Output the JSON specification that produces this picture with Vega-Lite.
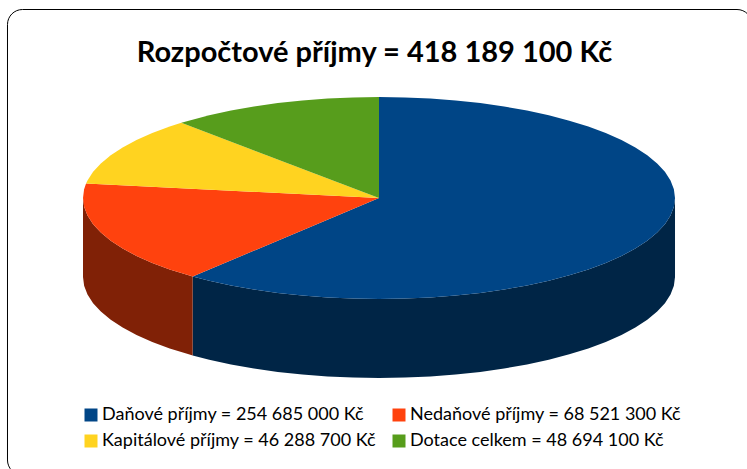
{"$schema":"https://vega.github.io/schema/vega-lite/v6.json","width":747,"height":469,"padding":0,"autosize":{"type":"none"},"background":"white","config":{"view":{"stroke":null}},
"title":{"text":"Rozpočtové příjmy = 418 189 100 Kč","font":"Lato","fontSize":29,"fontWeight":"bold","color":"#000000","anchor":"middle","offset":-68,"dx":1},
"datasets":{
"card":[{"x":-1.2551,"x2":1.2601,"y":1.8663,"y2":-2.7426}],
"sideBlue":[{"x":1,"y":0,"y2":-0.7822},{"x":0.9962,"y":-0.0872,"y2":-0.8694},{"x":0.9848,"y":-0.1736,"y2":-0.9558},{"x":0.9659,"y":-0.2588,"y2":-1.041},{"x":0.9397,"y":-0.342,"y2":-1.1242},{"x":0.9063,"y":-0.4226,"y2":-1.2048},{"x":0.866,"y":-0.5,"y2":-1.2822},{"x":0.8192,"y":-0.5736,"y2":-1.3558},{"x":0.766,"y":-0.6428,"y2":-1.425},{"x":0.7071,"y":-0.7071,"y2":-1.4893},{"x":0.6428,"y":-0.766,"y2":-1.5482},{"x":0.5736,"y":-0.8192,"y2":-1.6014},{"x":0.5,"y":-0.866,"y2":-1.6482},{"x":0.4226,"y":-0.9063,"y2":-1.6885},{"x":0.342,"y":-0.9397,"y2":-1.7219},{"x":0.2588,"y":-0.9659,"y2":-1.7481},{"x":0.1736,"y":-0.9848,"y2":-1.767},{"x":0.0872,"y":-0.9962,"y2":-1.7784},{"x":0,"y":-1,"y2":-1.7822},{"x":-0.0872,"y":-0.9962,"y2":-1.7784},{"x":-0.1736,"y":-0.9848,"y2":-1.767},{"x":-0.2588,"y":-0.9659,"y2":-1.7481},{"x":-0.342,"y":-0.9397,"y2":-1.7219},{"x":-0.4226,"y":-0.9063,"y2":-1.6885},{"x":-0.5,"y":-0.866,"y2":-1.6482},{"x":-0.5736,"y":-0.8192,"y2":-1.6014},{"x":-0.6295,"y":-0.777,"y2":-1.5592}],
"sideRed":[{"x":-0.6295,"y":-0.777,"y2":-1.5592},{"x":-0.6428,"y":-0.766,"y2":-1.5482},{"x":-0.7071,"y":-0.7071,"y2":-1.4893},{"x":-0.766,"y":-0.6428,"y2":-1.425},{"x":-0.8192,"y":-0.5736,"y2":-1.3558},{"x":-0.866,"y":-0.5,"y2":-1.2822},{"x":-0.9063,"y":-0.4226,"y2":-1.2048},{"x":-0.9397,"y":-0.342,"y2":-1.1242},{"x":-0.9659,"y":-0.2588,"y2":-1.041},{"x":-0.9848,"y":-0.1736,"y2":-0.9558},{"x":-0.9962,"y":-0.0872,"y2":-0.8694},{"x":-1,"y":0,"y2":-0.7822}],
"faces":[
{"s":"D","i":0,"x":0,"y":0},{"s":"D","i":1,"x":0,"y":1},{"s":"D","i":2,"x":0.0872,"y":0.9962},{"s":"D","i":3,"x":0.1736,"y":0.9848},{"s":"D","i":4,"x":0.2588,"y":0.9659},{"s":"D","i":5,"x":0.342,"y":0.9397},{"s":"D","i":6,"x":0.4226,"y":0.9063},{"s":"D","i":7,"x":0.5,"y":0.866},{"s":"D","i":8,"x":0.5736,"y":0.8192},{"s":"D","i":9,"x":0.6428,"y":0.766},{"s":"D","i":10,"x":0.7071,"y":0.7071},{"s":"D","i":11,"x":0.766,"y":0.6428},{"s":"D","i":12,"x":0.8192,"y":0.5736},{"s":"D","i":13,"x":0.866,"y":0.5},{"s":"D","i":14,"x":0.9063,"y":0.4226},{"s":"D","i":15,"x":0.9397,"y":0.342},{"s":"D","i":16,"x":0.9659,"y":0.2588},{"s":"D","i":17,"x":0.9848,"y":0.1736},{"s":"D","i":18,"x":0.9962,"y":0.0872},{"s":"D","i":19,"x":1,"y":0},{"s":"D","i":20,"x":0.9962,"y":-0.0872},{"s":"D","i":21,"x":0.9848,"y":-0.1736},{"s":"D","i":22,"x":0.9659,"y":-0.2588},{"s":"D","i":23,"x":0.9397,"y":-0.342},{"s":"D","i":24,"x":0.9063,"y":-0.4226},{"s":"D","i":25,"x":0.866,"y":-0.5},{"s":"D","i":26,"x":0.8192,"y":-0.5736},{"s":"D","i":27,"x":0.766,"y":-0.6428},{"s":"D","i":28,"x":0.7071,"y":-0.7071},{"s":"D","i":29,"x":0.6428,"y":-0.766},{"s":"D","i":30,"x":0.5736,"y":-0.8192},{"s":"D","i":31,"x":0.5,"y":-0.866},{"s":"D","i":32,"x":0.4226,"y":-0.9063},{"s":"D","i":33,"x":0.342,"y":-0.9397},{"s":"D","i":34,"x":0.2588,"y":-0.9659},{"s":"D","i":35,"x":0.1736,"y":-0.9848},{"s":"D","i":36,"x":0.0872,"y":-0.9962},{"s":"D","i":37,"x":0,"y":-1},{"s":"D","i":38,"x":-0.0872,"y":-0.9962},{"s":"D","i":39,"x":-0.1736,"y":-0.9848},{"s":"D","i":40,"x":-0.2588,"y":-0.9659},{"s":"D","i":41,"x":-0.342,"y":-0.9397},{"s":"D","i":42,"x":-0.4226,"y":-0.9063},{"s":"D","i":43,"x":-0.5,"y":-0.866},{"s":"D","i":44,"x":-0.5736,"y":-0.8192},{"s":"D","i":45,"x":-0.6295,"y":-0.777},
{"s":"N","i":0,"x":0,"y":0},{"s":"N","i":1,"x":-0.6295,"y":-0.777},{"s":"N","i":2,"x":-0.6428,"y":-0.766},{"s":"N","i":3,"x":-0.7071,"y":-0.7071},{"s":"N","i":4,"x":-0.766,"y":-0.6428},{"s":"N","i":5,"x":-0.8192,"y":-0.5736},{"s":"N","i":6,"x":-0.866,"y":-0.5},{"s":"N","i":7,"x":-0.9063,"y":-0.4226},{"s":"N","i":8,"x":-0.9397,"y":-0.342},{"s":"N","i":9,"x":-0.9659,"y":-0.2588},{"s":"N","i":10,"x":-0.9848,"y":-0.1736},{"s":"N","i":11,"x":-0.9962,"y":-0.0872},{"s":"N","i":12,"x":-1,"y":0},{"s":"N","i":13,"x":-0.9962,"y":0.0872},{"s":"N","i":14,"x":-0.9897,"y":0.1433},
{"s":"K","i":0,"x":0,"y":0},{"s":"K","i":1,"x":-0.9897,"y":0.1433},{"s":"K","i":2,"x":-0.9848,"y":0.1736},{"s":"K","i":3,"x":-0.9659,"y":0.2588},{"s":"K","i":4,"x":-0.9397,"y":0.342},{"s":"K","i":5,"x":-0.9063,"y":0.4226},{"s":"K","i":6,"x":-0.866,"y":0.5},{"s":"K","i":7,"x":-0.8192,"y":0.5736},{"s":"K","i":8,"x":-0.766,"y":0.6428},{"s":"K","i":9,"x":-0.7071,"y":0.7071},{"s":"K","i":10,"x":-0.6678,"y":0.7443},
{"s":"C","i":0,"x":0,"y":0},{"s":"C","i":1,"x":-0.6678,"y":0.7443},{"s":"C","i":2,"x":-0.6428,"y":0.766},{"s":"C","i":3,"x":-0.5736,"y":0.8192},{"s":"C","i":4,"x":-0.5,"y":0.866},{"s":"C","i":5,"x":-0.4226,"y":0.9063},{"s":"C","i":6,"x":-0.342,"y":0.9397},{"s":"C","i":7,"x":-0.2588,"y":0.9659},{"s":"C","i":8,"x":-0.1736,"y":0.9848},{"s":"C","i":9,"x":-0.0872,"y":0.9962},{"s":"C","i":10,"x":0,"y":1}
]},
"resolve":{"scale":{"x":"shared","y":"shared"}},
"layer":[
{"data":{"name":"card"},"mark":{"type":"rect","fill":"white","stroke":"#000000","strokeWidth":1,"cornerRadius":15},
"encoding":{"x":{"field":"x","type":"quantitative","scale":{"domain":[-1.2804,1.2432],"nice":false,"zero":false},"axis":null},"x2":{"field":"x2"},"y":{"field":"y","type":"quantitative","scale":{"domain":[-2.6832,1.9604],"nice":false,"zero":false},"axis":null},"y2":{"field":"y2"}}},
{"data":{"name":"sideBlue"},"mark":{"type":"area","color":"#002546"},"encoding":{"x":{"field":"x","type":"quantitative"},"y":{"field":"y","type":"quantitative"},"y2":{"field":"y2"}}},
{"data":{"name":"sideRed"},"mark":{"type":"area","color":"#802106"},"encoding":{"x":{"field":"x","type":"quantitative"},"y":{"field":"y","type":"quantitative"},"y2":{"field":"y2"}}},
{"data":{"name":"faces"},
"transform":[{"lookup":"s","from":{"data":{"values":[{"s":"D","label":"Daňové příjmy = 254 685 000 Kč"},{"s":"N","label":"Nedaňové příjmy = 68 521 300 Kč"},{"s":"K","label":"Kapitálové příjmy = 46 288 700 Kč"},{"s":"C","label":"Dotace celkem = 48 694 100 Kč"}]},"key":"s","fields":["label"]}}],
"mark":{"type":"line","filled":true,"strokeWidth":0},
"encoding":{"x":{"field":"x","type":"quantitative"},"y":{"field":"y","type":"quantitative"},"order":{"field":"i","type":"quantitative"},
"color":{"field":"label","type":"nominal","scale":{"domain":["Daňové příjmy = 254 685 000 Kč","Kapitálové příjmy = 46 288 700 Kč","Nedaňové příjmy = 68 521 300 Kč","Dotace celkem = 48 694 100 Kč"],"range":["#004586","#ffd320","#ff420e","#579d1c"]},
"legend":{"title":null,"orient":"none","legendX":82,"legendY":406,"columns":2,"columnPadding":14,"rowPadding":8,"symbolType":"square","symbolSize":169,"symbolStrokeWidth":0,"labelFont":"Lato","labelFontSize":18,"labelColor":"#000000","labelOffset":2,"labelLimit":400,"padding":0}}}}
]}
